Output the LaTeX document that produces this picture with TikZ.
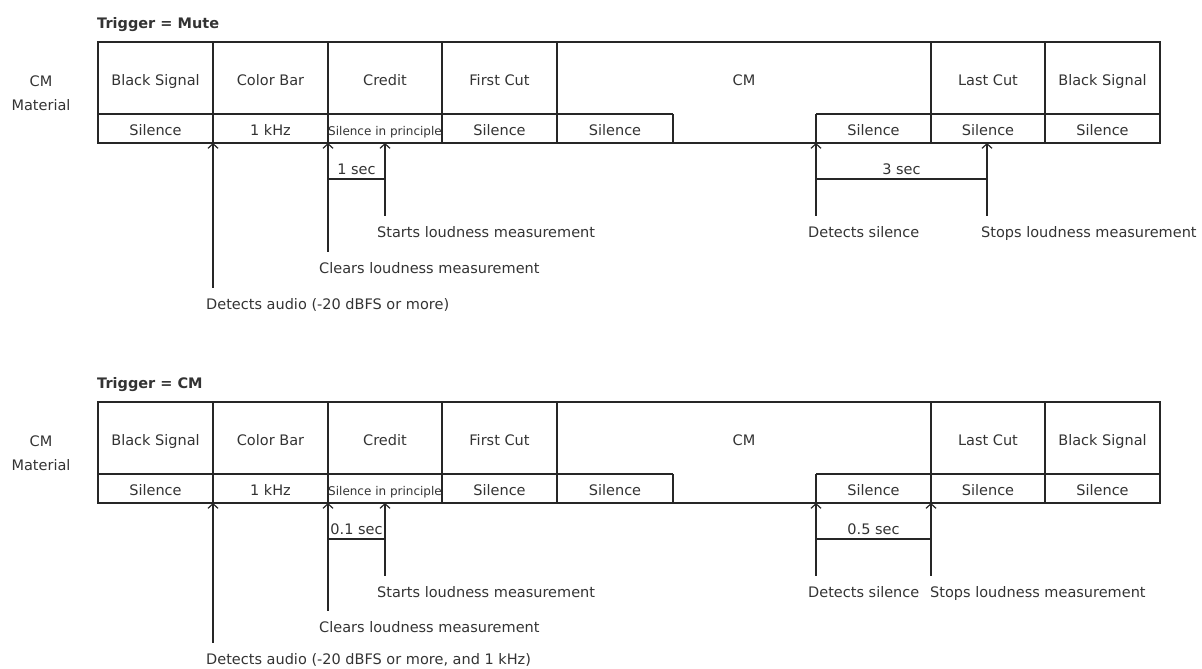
\documentclass[tikz,border=0pt]{standalone}
\usepackage{fontspec}
\setmainfont{DejaVu Sans}
\usetikzlibrary{arrows.meta}
\tikzset{
  grid/.style={line width=1.2pt, draw=black!85},
  lbl/.style={inner sep=1pt, text=black!80, text height=11pt, text depth=3pt,
    font=\fontsize{14.5}{17}\selectfont},
  tick/.style={line width=1.2pt, draw=black!85, shorten <=9pt,
    -{Straight Barb[length=4.5pt,width=10pt]}},
}
\begin{document}
\begin{tikzpicture}[x=1pt, y=-1pt]
  \useasboundingbox (0,0) rectangle (1202,669);

  % The same CM material table for both triggers.
  \foreach \pre/\dy/\trig in {m/0/Mute, c/360/CM} {
    \begin{scope}[shift={(0,\dy)}, name prefix=\pre-]
      \node[lbl, anchor=west, font=\fontsize{14.5}{17}\selectfont\bfseries] (title) at (96,24.5) {Trigger = \trig};
      \node[lbl, align=center, text height=, text depth=] (mat) at (41,93) {CM\\[7pt]Material};
      % outline and row divider (open below the CM cell)
      \draw[grid] (98,42) rectangle (1160,143);
      \draw[grid] (98,114) -- (673,114) (816,114) -- (1160,114);
      \foreach \x in {213,328,442,557,931,1045}
        \draw[grid] (\x,42) -- (\x,143);
      \draw[grid] (673,114) -- (673,143) (816,114) -- (816,143);
      % upper row
      \foreach \cx/\txt [count=\i] in {155.5/Black Signal, 270.5/Color Bar, 385/Credit,
          499.5/First Cut, 744/CM, 988/Last Cut, 1102.5/Black Signal}
        \node[lbl] (up\i) at (\cx,81) {\txt};
      % lower row
      \foreach \cx/\txt [count=\i] in {155.5/Silence, 270.5/1 kHz, 499.5/Silence,
          615/Silence, 873.5/Silence, 988/Silence, 1102.5/Silence}
        \node[lbl] (lo\i) at (\cx,131) {\txt};
      \node[lbl, font=\fontsize{12}{14}\selectfont] (princ) at (385,131) {Silence in principle};
    \end{scope}
  }

  % Trigger = Mute: events below the table
  \begin{scope}[name prefix=m-]
    \coordinate (aud) at (213,143);
    \coordinate (clr) at (328,143);
    \coordinate (sta) at (385,143);
    \coordinate (sil) at (816,143);
    \coordinate (sto) at (987,143);
    \node[lbl, anchor=west] (audtxt) at (205,305) {Detects audio (-20 dBFS or more)};
    \node[lbl, anchor=west] (clrtxt) at (318,269) {Clears loudness measurement};
    \node[lbl, anchor=west] (statxt) at (376,233) {Starts loudness measurement};
    \node[lbl, anchor=west] (siltxt) at (807,233) {Detects silence};
    \node[lbl, anchor=west] (stotxt) at (980,233) {Stops loudness measurement};
    \draw[tick] (audtxt.north -| aud) -- (aud);
    \draw[tick] (clrtxt.north -| clr) -- (clr);
    \draw[tick] (statxt.north -| sta) -- (sta);
    \draw[tick] (siltxt.north -| sil) -- (sil);
    \draw[tick] (stotxt.north -| sto) -- (sto);
    % measured intervals
    \coordinate (w1a) at (328,179);
    \coordinate (w1b) at (385,179);
    \coordinate (w2a) at (816,179);
    \coordinate (w2b) at (987,179);
    \draw[grid] (w1a) -- node[lbl, above=0pt] (sec1) {1 sec} (w1b);
    \draw[grid] (w2a) -- node[lbl, above=0pt] (sec2) {3 sec} (w2b);
  \end{scope}

  % Trigger = CM: events below the table
  \begin{scope}[shift={(0,360)}, name prefix=c-]
    \coordinate (aud) at (213,143);
    \coordinate (clr) at (328,143);
    \coordinate (sta) at (385,143);
    \coordinate (sil) at (816,143);
    \coordinate (sto) at (931,143);
    \node[lbl, anchor=west] (audtxt) at (205,300) {Detects audio (-20 dBFS or more, and 1 kHz)};
    \node[lbl, anchor=west] (clrtxt) at (318,268) {Clears loudness measurement};
    \node[lbl, anchor=west] (statxt) at (376,233) {Starts loudness measurement};
    \node[lbl, anchor=west] (siltxt) at (807,233) {Detects silence};
    \node[lbl, anchor=west] (stotxt) at (929,233) {Stops loudness measurement};
    \draw[tick] (audtxt.north -| aud) -- (aud);
    \draw[tick] (clrtxt.north -| clr) -- (clr);
    \draw[tick] (statxt.north -| sta) -- (sta);
    \draw[tick] (siltxt.north -| sil) -- (sil);
    \draw[tick] (stotxt.north -| sto) -- (sto);
    % measured intervals
    \coordinate (w1a) at (328,179);
    \coordinate (w1b) at (385,179);
    \coordinate (w2a) at (816,179);
    \coordinate (w2b) at (931,179);
    \draw[grid] (w1a) -- node[lbl, above=0pt] (sec1) {0.1 sec} (w1b);
    \draw[grid] (w2a) -- node[lbl, above=0pt] (sec2) {0.5 sec} (w2b);
  \end{scope}
\end{tikzpicture}
\end{document}
